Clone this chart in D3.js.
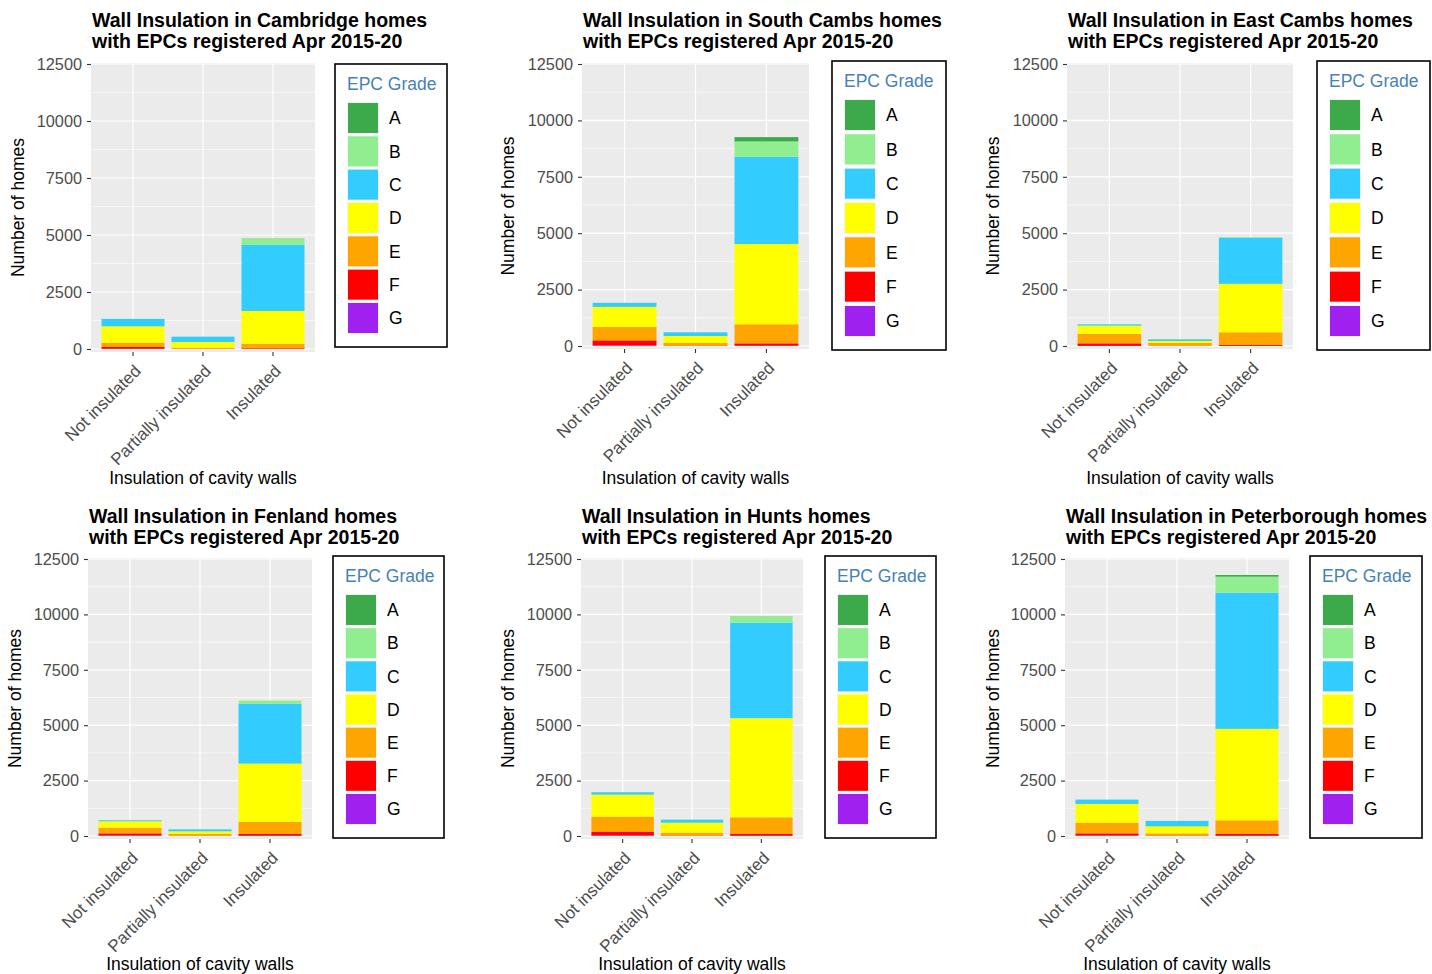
<!DOCTYPE html>
<html>
<head>
<meta charset="utf-8">
<script src="https://cdn.jsdelivr.net/npm/d3@7"></script>
<style>
  html, body { margin: 0; padding: 0; background: #ffffff; }
  svg { display: block; font-family: "Liberation Sans", Arial, sans-serif; }
</style>
</head>
<body>
<svg id="chart" width="1432" height="974"></svg>
<script>
// EPC grades (stack order: G at the bottom, A on top)
const grades = ["A", "B", "C", "D", "E", "F", "G"];
const gradeColours = ["#3CAA4B", "#90EE90", "#33CCFF", "#FFFF00", "#FFA500", "#FF0000", "#A020F0"];
const insulation = ["Not insulated", "Partially insulated", "Insulated"];
const yTicks = [0, 2500, 5000, 7500, 10000, 12500];
const yMinor = [1250, 3750, 6250, 8750, 11250];

// Homes per grade A..G, one row per insulation level
const cambridge = [
  [0, 10, 322, 714, 190, 80, 10],
  [0, 5, 233, 247, 55, 5, 0],
  [10, 278, 2894, 1433, 199, 30, 5]
];
const southCambs = [
  [0, 10, 178, 889, 594, 230, 20],
  [0, 5, 163, 311, 113, 20, 0],
  [192, 682, 3866, 3556, 845, 108, 10]
];
const eastCambs = [
  [0, 5, 59, 371, 415, 113, 5],
  [0, 0, 74, 89, 118, 15, 0],
  [0, 30, 2044, 2149, 563, 39, 5]
];
const fenland = [
  [0, 10, 50, 286, 257, 100, 20],
  [0, 0, 90, 121, 80, 10, 0],
  [0, 150, 2696, 2635, 543, 80, 10]
];
const hunts = [
  [0, 10, 110, 994, 692, 161, 20],
  [0, 5, 136, 452, 130, 20, 0],
  [10, 280, 4307, 4473, 753, 80, 10]
];
const peterborough = [
  [0, 5, 196, 844, 482, 100, 20],
  [0, 5, 241, 317, 100, 20, 0],
  [75, 723, 6145, 4126, 618, 80, 10]
];

const areaNames = ["Cambridge", "South Cambs", "East Cambs", "Fenland", "Hunts", "Peterborough"];
const areaCounts = [cambridge, southCambs, eastCambs, fenland, hunts, peterborough];

// Panel geometry for the 3 x 2 grid
const panels = [
  { left: 91,   right: 315,  top: 63,  yTop: 64,  yZero: 349, bottom: 352, tBase: 27,  xlabY: 484, ylabX: 18,  legend: [335, 447, 64, 347] },
  { left: 582,  right: 809,  top: 63,  yTop: 64,  yZero: 346, bottom: 349, tBase: 27,  xlabY: 484, ylabX: 508, legend: [832, 946, 61, 350] },
  { left: 1067, right: 1293, top: 63,  yTop: 64,  yZero: 346, bottom: 349, tBase: 27,  xlabY: 484, ylabX: 993, legend: [1317, 1430, 61, 350] },
  { left: 88,   right: 312,  top: 558, yTop: 559, yZero: 836, bottom: 839, tBase: 523, xlabY: 970, ylabX: 15,  legend: [333, 444, 556, 838] },
  { left: 581,  right: 803,  top: 558, yTop: 559, yZero: 836, bottom: 839, tBase: 523, xlabY: 970, ylabX: 508, legend: [825, 936, 556, 838] },
  { left: 1065, right: 1289, top: 558, yTop: 559, yZero: 836, bottom: 839, tBase: 523, xlabY: 970, ylabX: 993, legend: [1310, 1422, 556, 838] }
];

const svg = d3.select("#chart");
const colour = d3.scaleOrdinal().domain(grades).range(gradeColours);
const stackKeys = grades.slice().reverse();

areaNames.forEach((name, i) => {
  const p = panels[i];
  const counts = areaCounts[i];
  const rows = insulation.map((lvl, j) => {
    const r = { level: lvl };
    grades.forEach((g, k) => { r[g] = counts[j][k]; });
    return r;
  });
  const series = d3.stack().keys(stackKeys)(rows);

  const g = svg.append("g");

  // discrete x: 0.6 category-width expansion on each side, bars 0.9 wide
  const unit = (p.right - p.left) / 3.2;
  const x = d3.scaleBand().domain(insulation)
    .range([p.left + 0.1 * unit, p.right - 0.1 * unit]).paddingInner(0.1).paddingOuter(0.05);
  const xc = d => x(d) + x.bandwidth() / 2;
  const y = d3.scaleLinear().domain([0, 12500]).range([p.yZero, p.yTop]);

  // panel background and grid
  g.append("rect").attr("x", p.left).attr("y", p.top)
    .attr("width", p.right - p.left).attr("height", p.bottom - p.top).attr("fill", "#EBEBEB");
  g.selectAll(".minor").data(yMinor).join("line")
    .attr("x1", p.left).attr("x2", p.right).attr("y1", d => y(d)).attr("y2", d => y(d))
    .attr("stroke", "#ffffff").attr("stroke-width", 0.6);
  g.selectAll(".major").data(yTicks).join("line")
    .attr("x1", p.left).attr("x2", p.right).attr("y1", d => y(d)).attr("y2", d => y(d))
    .attr("stroke", "#ffffff").attr("stroke-width", 1.2);
  g.selectAll(".vmajor").data(insulation).join("line")
    .attr("x1", d => xc(d)).attr("x2", d => xc(d)).attr("y1", p.top).attr("y2", p.bottom)
    .attr("stroke", "#ffffff").attr("stroke-width", 1.2);

  // stacked bars
  g.selectAll(".layer").data(series).join("g")
    .attr("fill", s => colour(s.key))
    .selectAll("rect").data(s => s).join("rect")
    .attr("x", d => x(d.data.level))
    .attr("width", x.bandwidth())
    .attr("y", d => y(d[1]))
    .attr("height", d => Math.max(0, y(d[0]) - y(d[1])));

  // y axis
  const yAxis = d3.axisLeft(y).tickValues(yTicks).tickFormat(d3.format("d")).tickSize(4).tickPadding(5);
  const ya = g.append("g").attr("transform", `translate(${p.left},0)`).call(yAxis);
  ya.select(".domain").remove();
  ya.selectAll(".tick line").attr("stroke", "#333333").attr("stroke-width", 1.1);
  ya.selectAll(".tick text").attr("fill", "#4D4D4D").style("font-size", "16.3px")
    .style("font-family", "Liberation Sans, Arial, sans-serif");

  // x axis with rotated labels
  const xAxis = d3.axisBottom(x).tickSize(4).tickSizeOuter(0);
  const xa = g.append("g").attr("transform", `translate(0,${p.bottom})`).call(xAxis);
  xa.select(".domain").remove();
  xa.selectAll(".tick line").attr("stroke", "#333333").attr("stroke-width", 1.1);
  xa.selectAll(".tick text")
    .attr("fill", "#4D4D4D").style("font-size", "17px")
    .style("font-family", "Liberation Sans, Arial, sans-serif")
    .attr("text-anchor", "end")
    .attr("y", 0).attr("dy", 0)
    .attr("transform", "translate(9,20) rotate(-45)");

  // axis titles
  g.append("text").attr("x", (p.left + p.right) / 2).attr("y", p.xlabY)
    .attr("text-anchor", "middle").attr("font-size", "17.5px").attr("fill", "#000")
    .text("Insulation of cavity walls");
  g.append("text")
    .attr("transform", `translate(${p.ylabX + 6},${(p.top + p.bottom) / 2}) rotate(-90)`)
    .attr("text-anchor", "middle").attr("font-size", "17.5px").attr("fill", "#000")
    .text("Number of homes");

  // plot title
  const t = g.append("text").attr("font-size", "19.5px").attr("font-weight", "bold").attr("fill", "#000");
  t.append("tspan").attr("x", p.left + 1).attr("y", p.tBase).text(`Wall Insulation in ${name} homes`);
  t.append("tspan").attr("x", p.left + 1).attr("y", p.tBase + 21).text("with EPCs registered Apr 2015-20");

  // legend
  const [lx0, lx1, ly0, ly1] = p.legend;
  const lg = g.append("g");
  lg.append("rect").attr("x", lx0).attr("y", ly0).attr("width", lx1 - lx0).attr("height", ly1 - ly0)
    .attr("fill", "#ffffff").attr("stroke", "#000").attr("stroke-width", 1.6);
  lg.append("text").attr("x", lx0 + 12).attr("y", ly0 + 26).attr("font-size", "17.5px")
    .attr("fill", "#4682B4").text("EPC Grade");
  const key = 32;
  const step = (ly1 - ly0 - 38 - 13 - key) / 6;
  const items = lg.selectAll(".item").data(grades).join("g")
    .attr("transform", (d, k) => `translate(${lx0 + 12},${ly0 + 38 + k * step})`);
  items.append("rect").attr("width", key).attr("height", key).attr("fill", "#F2F2F2");
  items.append("rect").attr("x", 1).attr("y", 1).attr("width", key - 2).attr("height", key - 2)
    .attr("fill", d => colour(d));
  items.append("text").attr("x", key + 10).attr("y", key / 2).attr("dy", "0.36em")
    .attr("font-size", "17.5px").attr("fill", "#000").text(d => d);
});
</script>
</body>
</html>
